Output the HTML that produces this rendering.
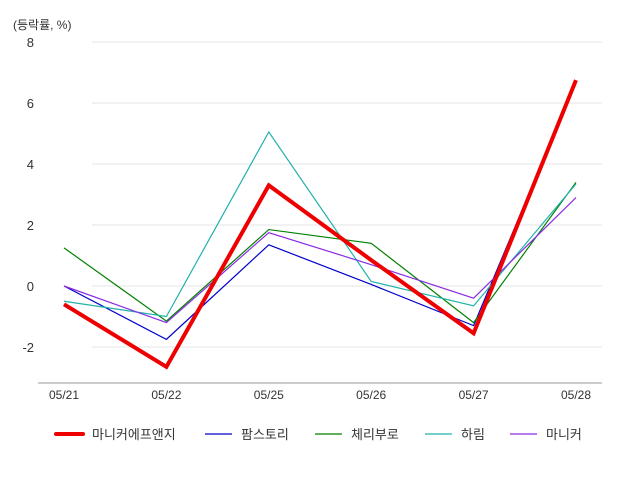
<!DOCTYPE html>
<html><head><meta charset="utf-8"><style>
body{margin:0;background:#fff;}
svg{display:block;font-family:"Liberation Sans","Noto Sans CJK KR",sans-serif;}
</style></head><body>
<svg id="c" width="640" height="480"></svg>
<script>
const categories=["05/21","05/22","05/25","05/26","05/27","05/28"];
const yTicks=[-2,0,2,4,6,8];
const seriesNames=["마니커에프앤지","팜스토리","체리부로","하림","마니커"];
const seriesColors=["#ee0000","#0000cc","#008000","#20b2aa","#8a2be2"];
const seriesWidths=[4,1.2,1.2,1.2,1.2];
const s0=[-0.6,-2.65,3.3,0.85,-1.55,6.75];
const s1=[0,-1.75,1.35,0.05,-1.3,6.7];
const s2=[1.25,-1.15,1.85,1.4,-1.2,3.4];
const s3=[-0.5,-1.0,5.05,0.15,-0.65,3.35];
const s4=[0,-1.2,1.75,0.7,-0.4,2.9];
const seriesData=[s0,s1,s2,s3,s4];
const svg=document.getElementById('c');
const NS='http://www.w3.org/2000/svg';
function mk(t,a,p){const e=document.createElementNS(NS,t);for(const k in a)e.setAttribute(k,a[k]);(p||svg).appendChild(e);return e;}
const x=i=>64+i*102.4;
const y=v=>286-v*30.5;
yTicks.forEach(t=>{
 const g=mk('line',{x1:92,x2:602,y1:y(t),y2:y(t),stroke:'#e6e6e6','stroke-width':1});
 
 
 const l=mk('text',{x:34,y:y(t)+5,'text-anchor':'end','font-size':13,fill:'#333'});
 l.textContent=t;
 
 
});
const ax=mk('line',{x1:38,x2:602,y1:383,y2:383,stroke:'#bbb','stroke-width':1.5});


const yt=mk('text',{x:13,y:29,'font-size':12,fill:'#333'});
yt.textContent='(등락률, %)';


categories.forEach((c,i)=>{
 const t=mk('text',{x:x(i),y:399,'text-anchor':'middle','font-size':12,fill:'#333'});
 t.textContent=c;
 
 
});
[1,2,3,4,0].forEach(k=>{
 const p=mk('polyline',{points:seriesData[k].map((v,i)=>x(i)+','+y(v)).join(' '),fill:'none',stroke:seriesColors[k],'stroke-width':seriesWidths[k],'stroke-linejoin':'miter'});
 
 
});
const lx=[56,205,315,425,510];
seriesNames.forEach((n,k)=>{
 const g=mk('g',{});
 
 
 mk('line',{x1:lx[k],x2:lx[k]+27,y1:434,y2:434,stroke:seriesColors[k],'stroke-width':k==0?4:1.2,'stroke-linecap':k==0?'round':'butt'},g);
 const t=mk('text',{x:lx[k]+36,y:439,'font-size':13,fill:'#333'},g);
 t.textContent=n;
});
</script>
</body></html>
